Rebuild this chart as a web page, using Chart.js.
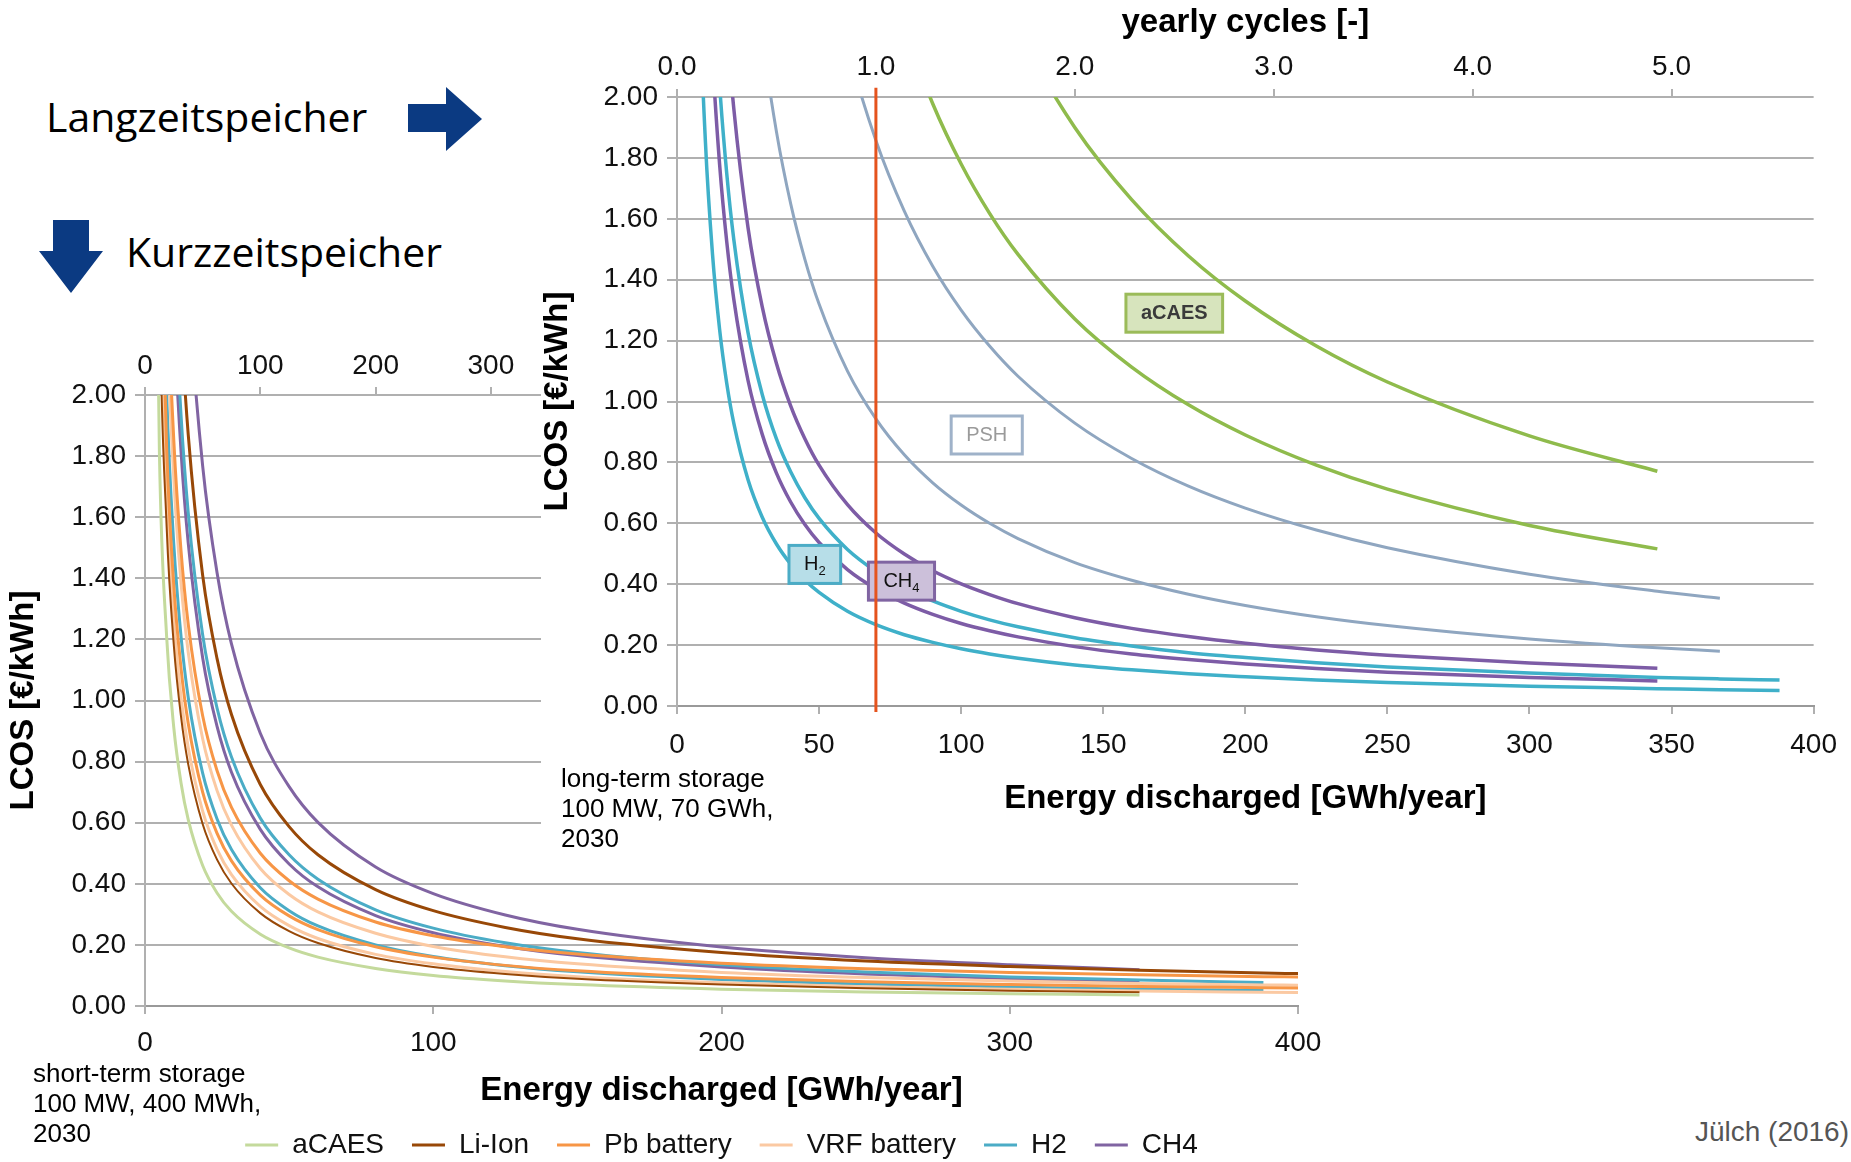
<!DOCTYPE html>
<html>
<head>
<meta charset="utf-8">
<title>LCOS Langzeit- und Kurzzeitspeicher</title>
<script src="https://cdn.jsdelivr.net/npm/chart.js@4.4.1/dist/chart.umd.min.js"></script>
<style>
  html, body { margin: 0; padding: 0; background: #fff; overflow: hidden; }
  #page { position: relative; width: 1851px; height: 1162px; overflow: hidden; }
  canvas { position: absolute; }
  #shortChart { left: 0; top: 330px; z-index: 1; }
  #longChart { left: 541px; top: 0; z-index: 2; background: #fff; }
  .txt { position: absolute; z-index: 3; font-family: 'Liberation Sans', Arial, sans-serif; color: #000; white-space: nowrap; }
  .head { font-family: 'Open Sans', sans-serif; font-size: 41px; line-height: 44px; }
  .note { font-size: 26px; line-height: 30px; }
</style>
</head>
<body>
<div id="page">
  <svg width="540" height="320" style="position:absolute;left:0;top:0;z-index:3">
    <polygon points="408,104 446,104 446,87 482,119 446,151 446,132 408,132" fill="#0b3a82"/>
    <polygon points="53,220 89,220 89,251 103,251 71,293 39,251 53,251" fill="#0b3a82"/>
  </svg>
  <div class="txt head" style="left:46px;top:94px">Langzeitspeicher</div>
  <div class="txt head" style="left:126px;top:229px">Kurzzeitspeicher</div>
  <canvas id="shortChart" width="1340" height="839"></canvas>
  <canvas id="longChart" width="1310" height="860"></canvas>
  <div class="txt note" style="left:561px;top:763px">long-term storage<br>100 MW, 70 GWh,<br>2030</div>
  <div class="txt note" style="left:33px;top:1058px">short-term storage<br>100 MW, 400 MWh,<br>2030</div>
  <div class="txt" style="right:2px;top:1116px;font-size:28px;color:#555">Jülch (2016)</div>
</div>
<script>
Chart.defaults.font.family = "'Liberation Sans', Arial, sans-serif";
Chart.defaults.color = '#111';

// Speichergroesse: 1 Zyklus = Kapazitaet (GWh)
const STORAGE_LONG = 70;   // 70 GWh
const STORAGE_SHORT = 0.4; // 400 MWh
const LINE_CYCLE = 1;      // rote Linie bei 1 Zyklus/Jahr

// Langzeitspeicher (oben rechts), LCOS in EUR/kWh
const X_LONG = [5, 7.5, 10, 12.5, 15, 17.5, 20, 25, 30, 35, 40, 45, 50, 60, 70, 80, 90, 100, 110, 120, 140, 160, 180, 200, 225, 250, 300, 345, 367, 388];
const ACAES_L_HIGH = [null, null, null, null, null, null, null, null, null, null, null, null, null, 4.433, 3.800, 3.325, 2.956, 2.660, 2.418, 2.217, 1.900, 1.663, 1.478, 1.330, 1.182, 1.064, 0.887, 0.771, null, null];
const ACAES_L_LOW = [null, null, null, null, null, null, null, null, null, null, null, 3.956, 3.560, 2.967, 2.543, 2.225, 1.978, 1.780, 1.618, 1.483, 1.271, 1.113, 0.989, 0.890, 0.791, 0.712, 0.593, 0.516, null, null];
const PSH_L_HIGH = [null, null, null, null, null, null, null, null, null, 3.714, 3.250, 2.889, 2.600, 2.167, 1.857, 1.625, 1.444, 1.300, 1.182, 1.083, 0.929, 0.813, 0.722, 0.650, 0.578, 0.520, 0.433, 0.377, 0.354, null];
const PSH_L_LOW = [null, null, null, null, null, 3.771, 3.300, 2.640, 2.200, 1.886, 1.650, 1.467, 1.320, 1.100, 0.943, 0.825, 0.733, 0.660, 0.600, 0.550, 0.471, 0.413, 0.367, 0.330, 0.293, 0.264, 0.220, 0.191, 0.180, null];
const H2_L_HIGH = [null, 4.073, 3.056, 2.446, 2.039, 1.749, 1.531, 1.226, 1.023, 0.877, 0.769, 0.684, 0.616, 0.514, 0.442, 0.387, 0.345, 0.311, 0.283, 0.260, 0.224, 0.197, 0.175, 0.159, 0.142, 0.128, 0.108, 0.094, 0.089, 0.085];
const H2_L_LOW = [3.703, 2.470, 1.853, 1.483, 1.236, 1.060, 0.928, 0.743, 0.620, 0.532, 0.466, 0.414, 0.373, 0.311, 0.267, 0.234, 0.209, 0.188, 0.171, 0.157, 0.135, 0.119, 0.106, 0.096, 0.085, 0.077, 0.065, 0.057, 0.053, 0.051];
const CH4_L_HIGH = [null, null, 3.911, 3.131, 2.611, 2.240, 1.961, 1.571, 1.311, 1.125, 0.986, 0.878, 0.791, 0.661, 0.568, 0.499, 0.444, 0.401, 0.366, 0.336, 0.290, 0.255, 0.228, 0.206, 0.184, 0.167, 0.141, 0.124, null, null];
const CH4_L_LOW = [null, 3.552, 2.665, 2.133, 1.778, 1.525, 1.335, 1.069, 0.892, 0.765, 0.670, 0.596, 0.537, 0.448, 0.385, 0.338, 0.301, 0.271, 0.247, 0.227, 0.195, 0.171, 0.153, 0.138, 0.123, 0.111, 0.094, 0.082, null, null];

// Kurzzeitspeicher (unten links)
const X_SHORT = [2.5, 5, 7.5, 10, 12.5, 15, 20, 25, 30, 40, 50, 60, 80, 100, 125, 150, 200, 250, 300, 345, 388, 400];
const ACAES_S = [3.61, 1.81, 1.21, 0.91, 0.73, 0.61, 0.46, 0.37, 0.31, 0.235, 0.19, 0.16, 0.123, 0.10, 0.082, 0.07, 0.055, 0.046, 0.04, 0.036, null, null];
const LIION_S_HIGH = [null, null, 3.70, 2.79, 2.24, 1.87, 1.41, 1.137, 0.954, 0.725, 0.587, 0.495, 0.381, 0.312, 0.257, 0.22, 0.175, 0.147, 0.129, 0.117, 0.108, 0.106];
const LIION_S_LOW = [4.69, 2.35, 1.57, 1.18, 0.947, 0.791, 0.596, 0.479, 0.401, 0.304, 0.245, 0.206, 0.157, 0.128, 0.105, 0.089, 0.070, 0.058, 0.050, 0.045, null, null];
const PB_S_HIGH = [null, 3.65, 2.45, 1.85, 1.49, 1.25, 0.95, 0.77, 0.65, 0.50, 0.41, 0.35, 0.275, 0.23, 0.194, 0.17, 0.14, 0.122, 0.11, 0.102, 0.096, 0.095];
const PB_S_LOW = [null, 2.73, 1.83, 1.375, 1.105, 0.925, 0.70, 0.565, 0.475, 0.363, 0.295, 0.25, 0.194, 0.16, 0.133, 0.115, 0.093, 0.079, 0.07, 0.064, 0.060, 0.059];
const VRF_S_HIGH = [null, 3.43, 2.29, 1.725, 1.385, 1.158, 0.875, 0.705, 0.592, 0.45, 0.365, 0.308, 0.238, 0.195, 0.161, 0.138, 0.11, 0.093, 0.082, 0.074, 0.069, 0.068];
const VRF_S_LOW = [null, 2.51, 1.68, 1.26, 1.01, 0.846, 0.638, 0.513, 0.430, 0.326, 0.263, 0.221, 0.169, 0.138, 0.113, 0.096, 0.076, 0.063, 0.055, 0.049, 0.045, 0.044];
const H2_S_HIGH = [null, null, 3.215, 2.415, 1.935, 1.615, 1.215, 0.975, 0.815, 0.615, 0.495, 0.415, 0.315, 0.255, 0.207, 0.175, 0.135, 0.111, 0.095, 0.085, 0.077, null];
const H2_S_LOW = [null, 3.01, 2.01, 1.51, 1.21, 1.01, 0.762, 0.612, 0.512, 0.387, 0.312, 0.262, 0.2, 0.162, 0.132, 0.112, 0.087, 0.072, 0.062, 0.055, 0.051, null];
const CH4_S_HIGH = [null, null, null, 3.52, 2.82, 2.35, 1.768, 1.418, 1.185, 0.893, 0.718, 0.601, 0.455, 0.368, 0.298, 0.251, 0.193, 0.158, 0.135, 0.119, null, null];
const CH4_S_LOW = [null, null, 3.02, 2.27, 1.815, 1.515, 1.14, 0.915, 0.765, 0.578, 0.465, 0.39, 0.296, 0.24, 0.195, 0.165, 0.128, 0.105, 0.09, 0.08, null, null];

// Beschriftungen im oberen Diagramm
const LABEL_TEXT = ['aCAES', 'PSH', 'H', 'CH'];
const LABEL_SUB = ['', '', '2', '4'];
const LABEL_X = [175, 109, 48.5, 79];
const LABEL_Y = [1.29, 0.89, 0.465, 0.41];
const LABEL_FILL = ['#d7e4bd', '#ffffff', '#b7dee8', '#ccc0da'];
const LABEL_BORDER = ['#9bbb59', '#9fb2c9', '#4bacc6', '#8064a2'];
const LABEL_COLOR = ['#3a3a3a', '#9a9a9a', '#111', '#111'];

const GRID = '#b0b0b0';

function toPoints(xs, ys) {
  return xs.map((x, i) => ({ x: x, y: ys[i] }));
}

function curve(label, xs, ys, color, width) {
  return {
    label: label,
    data: toPoints(xs, ys),
    borderColor: color,
    backgroundColor: color,
    borderWidth: width,
    pointRadius: 0,
    cubicInterpolationMode: 'monotone',
    fill: false
  };
}

function yAxis(width, titlePad) {
  return {
    min: 0, max: 2,
    ticks: { stepSize: 0.2, padding: 9, font: { size: 28 }, callback: v => v.toFixed(2) },
    grid: { color: GRID, lineWidth: 2, tickLength: 10 },
    border: { color: GRID, width: 2 },
    title: { display: true, text: 'LCOS [€/kWh]', color: '#000', font: { size: 33, weight: 'bold', lineHeight: 1 }, padding: { top: titlePad, bottom: 0 } },
    afterFit: s => { s.width = width; }
  };
}

// Kaesten aCAES / PSH / H2 / CH4 (unter der roten Linie)
const boxLabels = {
  id: 'boxLabels',
  beforeDatasetDraw(chart, args) {
    if (args.index !== 0) return;
    const { ctx, scales: { x, y } } = chart;
    ctx.save();
    LABEL_TEXT.forEach((t, i) => {
      const bold = i === 0;
      const main = (bold ? 'bold ' : '') + '20px "Liberation Sans", Arial, sans-serif';
      const sub = '13px "Liberation Sans", Arial, sans-serif';
      ctx.font = main;
      const wMain = ctx.measureText(t).width;
      ctx.font = sub;
      const wSub = LABEL_SUB[i] ? ctx.measureText(LABEL_SUB[i]).width : 0;
      const w = wMain + wSub + 30;
      const h = 38;
      const cx = x.getPixelForValue(LABEL_X[i]);
      const cy = y.getPixelForValue(LABEL_Y[i]);
      ctx.fillStyle = LABEL_FILL[i];
      ctx.strokeStyle = LABEL_BORDER[i];
      ctx.lineWidth = 3;
      ctx.fillRect(cx - w / 2, cy - h / 2, w, h);
      ctx.strokeRect(cx - w / 2, cy - h / 2, w, h);
      ctx.fillStyle = LABEL_COLOR[i];
      ctx.textBaseline = 'middle';
      ctx.textAlign = 'left';
      ctx.font = main;
      const x0 = cx - (wMain + wSub) / 2;
      ctx.fillText(t, x0, cy);
      if (LABEL_SUB[i]) {
        ctx.font = sub;
        ctx.fillText(LABEL_SUB[i], x0 + wMain, cy + 7);
      }
    });
    ctx.restore();
  }
};

// oberes Diagramm: Langzeitspeicher
new Chart(document.getElementById('longChart'), {
  type: 'line',
  data: {
    datasets: [
      {
        label: '1 Zyklus',
        data: [{ x: LINE_CYCLE * STORAGE_LONG, y: 2.03 }, { x: LINE_CYCLE * STORAGE_LONG, y: -0.02 }],
        borderColor: '#e5531d',
        borderWidth: 3,
        pointRadius: 0,
        clip: false
      },
      curve('aCAES', X_LONG, ACAES_L_HIGH, '#8fbb4c', 3.5),
      curve('aCAES', X_LONG, ACAES_L_LOW, '#8fbb4c', 3.5),
      curve('PSH', X_LONG, PSH_L_HIGH, '#8fa6c0', 3),
      curve('PSH', X_LONG, PSH_L_LOW, '#8fa6c0', 3),
      curve('CH4', X_LONG, CH4_L_HIGH, '#7d5ca6', 3.5),
      curve('CH4', X_LONG, CH4_L_LOW, '#7d5ca6', 3.5),
      curve('H2', X_LONG, H2_L_HIGH, '#3fb0c9', 3.5),
      curve('H2', X_LONG, H2_L_LOW, '#3fb0c9', 3.5)
    ]
  },
  options: {
    responsive: false,
    animation: false,
    layout: { padding: { left: 0, right: 33, top: 0, bottom: 0 } },
    plugins: { legend: { display: false }, tooltip: { enabled: false } },
    scales: {
      x: {
        type: 'linear', position: 'bottom', min: 0, max: 400,
        ticks: { stepSize: 50, padding: 14, font: { size: 28 }, includeBounds: false },
        grid: { drawOnChartArea: false, color: GRID, lineWidth: 2, tickLength: 8 },
        border: { color: '#999', width: 2 },
        title: { display: true, text: 'Energy discharged [GWh/year]', color: '#000', font: { size: 33, weight: 'bold' }, padding: { top: 0, bottom: 41 } },
        afterFit: s => { s.height = 154; }
      },
      x2: {
        type: 'linear', position: 'top', min: 0, max: 400 / STORAGE_LONG,
        ticks: { stepSize: 1, padding: 5, font: { size: 28 }, includeBounds: false, callback: v => v.toFixed(1) },
        grid: { drawOnChartArea: false, color: GRID, lineWidth: 2, tickLength: 8 },
        border: { display: false },
        title: { display: true, text: 'yearly cycles [-]', color: '#000', font: { size: 33, weight: 'bold' }, padding: { top: 3, bottom: 0 } },
        afterFit: s => { s.height = 97; }
      },
      y: yAxis(136, 0)
    }
  },
  plugins: [boxLabels]
});

// unteres Diagramm: Kurzzeitspeicher
new Chart(document.getElementById('shortChart'), {
  type: 'line',
  data: {
    datasets: [
      curve('aCAES', X_SHORT, ACAES_S, '#c4da9c', 3),
      curve('Li-Ion', X_SHORT, LIION_S_HIGH, '#984807', 3),
      curve('Li-Ion', X_SHORT, LIION_S_LOW, '#984807', 2),
      curve('Pb battery', X_SHORT, PB_S_HIGH, '#f79646', 3),
      curve('Pb battery', X_SHORT, PB_S_LOW, '#f79646', 3),
      curve('VRF battery', X_SHORT, VRF_S_HIGH, '#fbc9a2', 3),
      curve('VRF battery', X_SHORT, VRF_S_LOW, '#fbc9a2', 3),
      curve('H2', X_SHORT, H2_S_HIGH, '#4bacc6', 3),
      curve('H2', X_SHORT, H2_S_LOW, '#4bacc6', 3),
      curve('CH4', X_SHORT, CH4_S_HIGH, '#8064a2', 3),
      curve('CH4', X_SHORT, CH4_S_LOW, '#8064a2', 3)
    ]
  },
  options: {
    responsive: false,
    animation: false,
    layout: { padding: { left: 0, right: 42, top: 0, bottom: 0 } },
    plugins: {
      tooltip: { enabled: false },
      legend: {
        position: 'bottom',
        fullSize: false,
        labels: {
          usePointStyle: true,
          pointStyle: 'line',
          pointStyleWidth: 33,
          padding: 28,
          color: '#111',
          font: { size: 28 },
          filter: (item, data) => data.datasets.findIndex(d => d.label === item.text) === item.datasetIndex
        }
      }
    },
    scales: {
      x: {
        type: 'linear', position: 'bottom', min: 0, max: 400,
        ticks: { stepSize: 100, padding: 12, font: { size: 28 }, includeBounds: false },
        grid: { drawOnChartArea: false, color: GRID, lineWidth: 2, tickLength: 8 },
        border: { color: '#999', width: 2 },
        title: { display: true, text: 'Energy discharged [GWh/year]', color: '#000', font: { size: 33, weight: 'bold' }, padding: { top: 0, bottom: -8 } },
        afterFit: s => { s.height = 97; }
      },
      x2: {
        type: 'linear', position: 'top', min: 0, max: 400 / STORAGE_SHORT,
        ticks: { stepSize: 100, padding: 4, font: { size: 28 }, includeBounds: false },
        grid: { drawOnChartArea: false, color: GRID, lineWidth: 2, tickLength: 8 },
        border: { display: false },
        afterFit: s => { s.height = 65; }
      },
      y: yAxis(145, 7)
    }
  }
});
</script>
</body>
</html>
